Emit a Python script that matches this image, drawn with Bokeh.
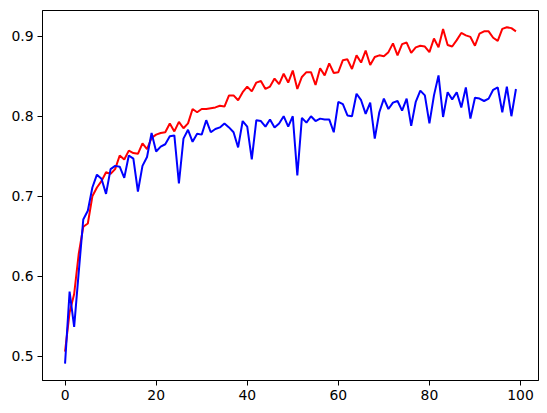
from bokeh.plotting import figure
from bokeh.models import Range1d, FixedTicker
from bokeh.embed import file_html
from bokeh.resources import INLINE

epochs = list(range(100))

red_series = [
    0.506, 0.555, 0.578, 0.628, 0.662, 0.666, 0.700, 0.711, 0.719, 0.730,
    0.728, 0.734, 0.751, 0.746, 0.757, 0.754, 0.753, 0.766, 0.759, 0.773,
    0.777, 0.779, 0.780, 0.791, 0.781, 0.793, 0.785, 0.791, 0.809, 0.805,
    0.809, 0.809, 0.810, 0.811, 0.813, 0.812, 0.826, 0.826, 0.820, 0.830,
    0.837, 0.831, 0.842, 0.844, 0.834, 0.837, 0.847, 0.840, 0.853, 0.842,
    0.857, 0.834, 0.849, 0.855, 0.855, 0.839, 0.860, 0.851, 0.866, 0.854,
    0.855, 0.870, 0.871, 0.859, 0.876, 0.867, 0.882, 0.864, 0.874, 0.876,
    0.875, 0.880, 0.891, 0.876, 0.890, 0.892, 0.879, 0.886, 0.888, 0.887,
    0.880, 0.897, 0.886, 0.909, 0.889, 0.887, 0.895, 0.904, 0.901, 0.899,
    0.888, 0.903, 0.906, 0.906, 0.898, 0.894, 0.909, 0.911, 0.910, 0.906,
]

blue_series = [
    0.491, 0.581, 0.537, 0.605, 0.671, 0.682, 0.711, 0.727, 0.722, 0.703,
    0.734, 0.738, 0.737, 0.723, 0.751, 0.747, 0.706, 0.738, 0.749, 0.779,
    0.756, 0.762, 0.765, 0.775, 0.776, 0.716, 0.772, 0.783, 0.768, 0.778,
    0.777, 0.795, 0.780, 0.784, 0.786, 0.791, 0.786, 0.780, 0.761, 0.794,
    0.787, 0.746, 0.795, 0.794, 0.787, 0.796, 0.786, 0.791, 0.800, 0.787,
    0.800, 0.726, 0.798, 0.792, 0.800, 0.794, 0.797, 0.796, 0.796, 0.780,
    0.818, 0.815, 0.801, 0.800, 0.828, 0.820, 0.803, 0.817, 0.772, 0.805,
    0.822, 0.809, 0.817, 0.819, 0.807, 0.822, 0.788, 0.818, 0.832, 0.826,
    0.791, 0.826, 0.851, 0.799, 0.830, 0.821, 0.830, 0.811, 0.836, 0.797,
    0.823, 0.822, 0.819, 0.822, 0.833, 0.836, 0.805, 0.837, 0.800, 0.834,
]

x_ticks = [0, 20, 40, 60, 80, 100]
y_ticks = [0.5, 0.6, 0.7, 0.8, 0.9]

# matplotlib-like 5% margins
xmin, xmax = min(epochs), max(epochs)
dx = xmax - xmin
ymin = min(min(red_series), min(blue_series))
ymax = max(max(red_series), max(blue_series))
dy = ymax - ymin

p = figure(width=539, height=405, output_backend="svg", toolbar_location=None,
           x_range=Range1d(xmin - 0.05 * dx, xmax + 0.05 * dx),
           y_range=Range1d(ymin - 0.05 * dy, ymax + 0.05 * dy),
           min_border_left=42, min_border_right=1, min_border_top=10, min_border_bottom=25)

p.line(epochs, red_series, line_color="#ff0000", line_width=2)
p.line(epochs, blue_series, line_color="#0000ff", line_width=2)

p.xgrid.visible = False
p.ygrid.visible = False
p.outline_line_color = "black"
p.outline_line_width = 1
p.outline_line_alpha = 1.0
p.background_fill_color = "white"
p.border_fill_color = "white"

p.xaxis.ticker = FixedTicker(ticks=x_ticks)
p.yaxis.ticker = FixedTicker(ticks=y_ticks)

for ax in (p.xaxis[0], p.yaxis[0]):
    ax.major_tick_in = 0
    ax.major_tick_out = 5
    ax.minor_tick_line_color = None
    ax.axis_line_color = "black"
    ax.major_tick_line_color = "black"
    ax.major_label_text_font = "DejaVu Sans"
    ax.major_label_text_font_size = "13.9px"
    ax.major_label_text_color = "black"
    ax.major_label_standoff = 4

open("out.html", "w").write(file_html(p, INLINE))
